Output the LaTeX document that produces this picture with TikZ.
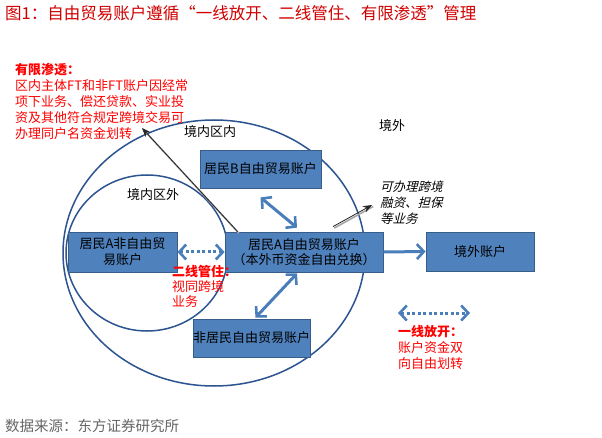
\documentclass[tikz,border=0pt]{standalone}
\usepackage{fontspec}
\setmainfont{Noto Sans CJK SC}
\newfontfamily\slcjk[FakeSlant=0.25]{Noto Sans CJK SC}
\usetikzlibrary{arrows.meta,calc}
\definecolor{boxfill}{HTML}{4F81BD}
\definecolor{boxline}{HTML}{385D8A}
\definecolor{arrblue}{HTML}{4A7EBB}
\definecolor{ringblue}{HTML}{2C5490}
\definecolor{titlered}{HTML}{D00000}
\definecolor{notered}{HTML}{FF0000}
\definecolor{srcgray}{HTML}{666666}
\tikzset{
  acct/.style={draw=boxline, fill=boxfill, line width=0.8pt, inner sep=0pt,
    font=\fontsize{13}{16}\selectfont, text=black, align=center},
  ring/.style={draw=ringblue, line width=1.5pt},
  barb/.tip={Straight Barb[length=7pt,width=15pt,line width=2.6pt]},
  blarrow/.style={draw=arrblue, line width=3pt},
  dotarrow/.style={draw=arrblue, line width=3pt, dash pattern=on 3pt off 2.5pt},
  thinarr/.style={draw=black!85, line width=0.8pt, -{Stealth[length=9pt,width=7pt]}},
  thinshadow/.style={draw=black!35, line width=1.6pt, transform canvas={xshift=1.2pt,yshift=-1.5pt}},
  lbl/.style={font=\fontsize{13}{16}\selectfont, text=black, inner sep=0pt},
  note/.style={text=notered, inner sep=0pt, align=left, anchor=north west},
}
\begin{document}
\begin{tikzpicture}[x=1pt,y=-1pt]
\fill[white] (0,0) rectangle (602,438);
\useasboundingbox (0,0) rectangle (602,438);

% title
\node[anchor=base west, inner sep=0pt, text=titlered, font=\fontsize{16.5}{18}\selectfont] (title) at (5,20)
  {图1：自由贸易账户遵循“一线放开、二线管住、有限渗透”管理};

% regions
\draw[ring] (214,253) ellipse [x radius=151pt, y radius=133pt];
\draw[ring] (147,253) ellipse [x radius=81pt, y radius=78pt];

% region labels
\node[lbl] (lin) at (210,132) {境内区内};
\node[lbl] (lout) at (392,126) {境外};
\node[lbl] (lext) at (153,195) {境内区外};

% accounts
\node[acct, minimum width=121pt, minimum height=38pt] (B) at (260.5,169) {居民B自由贸易账户};
\node[acct, minimum width=109pt, minimum height=40pt] (AN) at (122.5,252) {居民A非自由贸\\易账户};
\node[acct, minimum width=158pt, minimum height=40pt, font=\fontsize{13}{15}\selectfont] (A) at (304,252) {居民A自由贸易账户\\（本外币资金自由兑换）};
\node[acct, minimum width=108pt, minimum height=39pt] (W) at (480,251.5) {境外账户};
\node[acct, minimum width=113pt, minimum height=38pt] (N) at (251.5,338) {非居民自由贸易账户};

% blue connectors
\draw[blarrow, barb-barb] ([yshift=-9pt]B.south) -- ([xshift=-7pt,yshift=4pt]A.north);
\draw[blarrow, barb-barb] ([xshift=-7pt,yshift=-1pt]A.south) -- ([xshift=4pt,yshift=1pt]N.north);
\draw[dotarrow, barb-barb] (AN.east) -- (A.west);
\draw[blarrow, -barb] (A.east) -- (W.west);

% legend arrow
\coordinate (L1) at (398,313);
\coordinate (L2) at (470,313);
\draw[dotarrow, barb-barb] (L1) -- (L2);

% thin black arrows
\coordinate (tipN) at (142,128);
\coordinate (tipF) at (372,205);
\draw[thinshadow] ([xshift=13pt]A.north west) -- (tipN);
\draw[thinarr] ([xshift=13pt]A.north west) -- (tipN);
\draw[thinshadow] ([xshift=29pt,yshift=5pt]A.north) -- (tipF);
\draw[thinarr] ([xshift=29pt,yshift=5pt]A.north) -- (tipF);

% notes (anchored at top-left of first line)
\node[note, font=\fontsize{13}{16}\selectfont] (n1) at (15,63)
  {\textbf{有限渗透：}\\区内主体FT和非FT账户因经常\\项下业务、偿还贷款、实业投\\资及其他符合规定跨境交易可\\办理同户名资金划转};
\node[note, font=\fontsize{13}{15}\selectfont] (n2) at (172,265)
  {\textbf{二线管住：}\\视同跨境\\业务};
\node[note, font=\fontsize{13}{16}\selectfont] (n3) at (398,325)
  {\textbf{一线放开：}\\账户资金双\\向自由划转};
\node[note, text=black, font=\fontsize{12.5}{16}\slcjk] (n4) at (380,181)
  {可办理跨境\\融资、担保\\等业务};

% source
\node[anchor=base west, inner sep=0pt, text=srcgray, font=\fontsize{14.5}{16}\selectfont] (src) at (5,431)
  {数据来源：东方证券研究所};
\end{tikzpicture}
\end{document}
